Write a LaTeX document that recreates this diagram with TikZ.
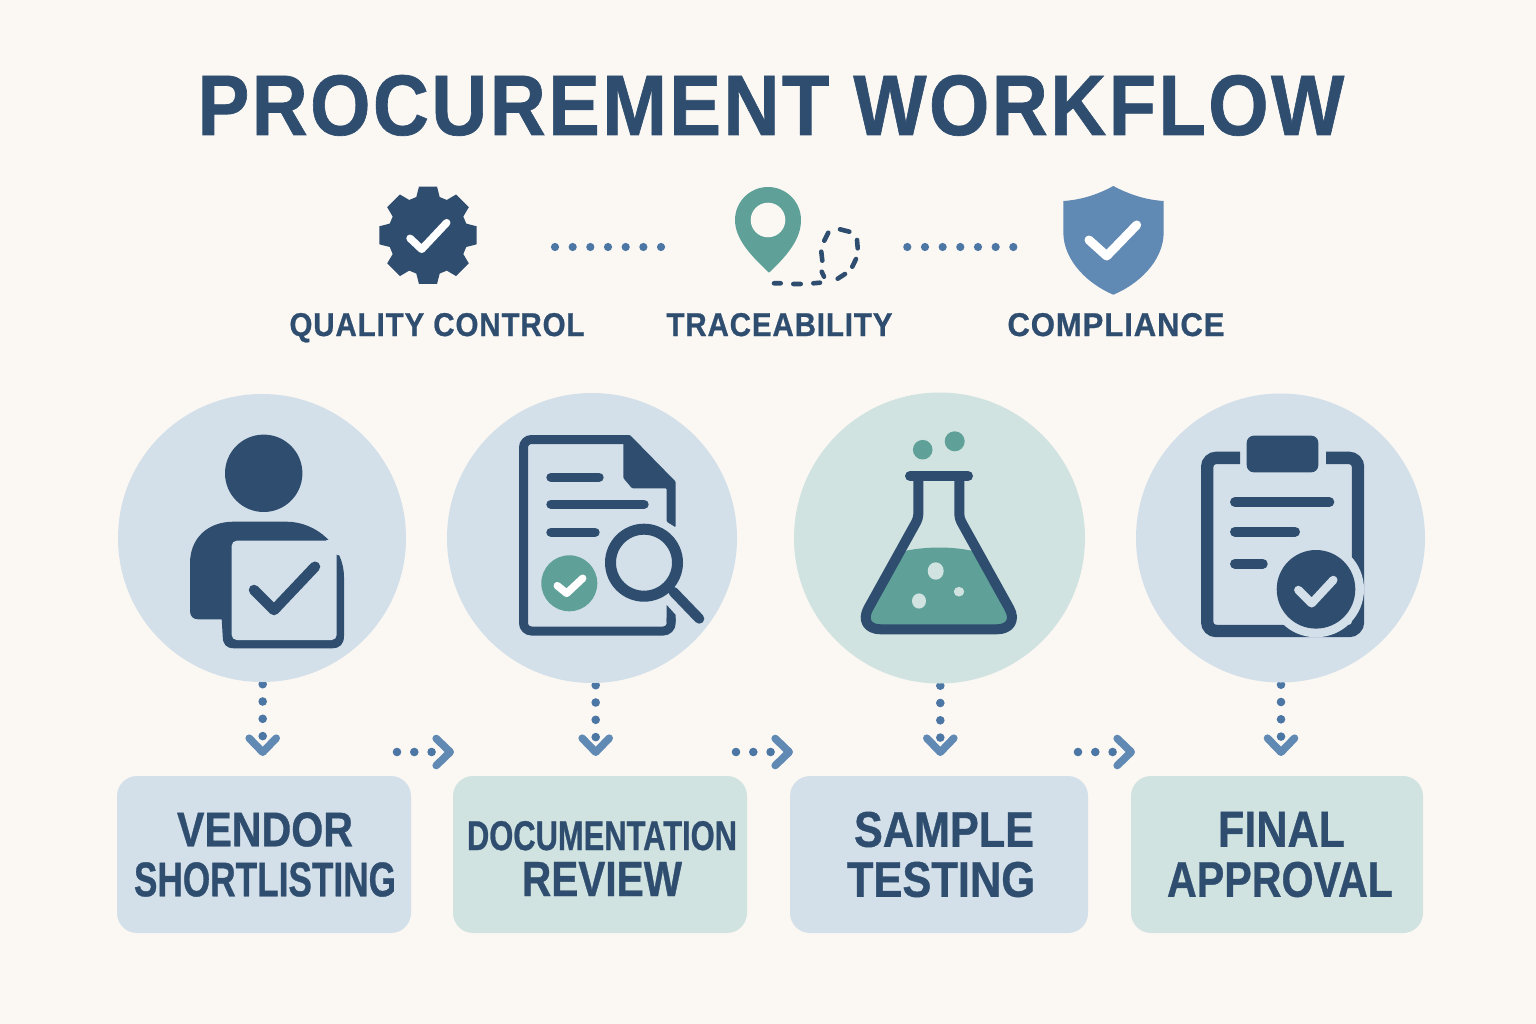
\documentclass[tikz,border=0pt]{standalone}
\usepackage{fontspec}
\setmainfont{Liberation Sans}[BoldFeatures={FakeBold=0.8}]
\usetikzlibrary{arrows.meta, backgrounds}

\definecolor{paperbg}{HTML}{FBF8F4}
\definecolor{navyink}{HTML}{2F4E6F}
\definecolor{tealink}{HTML}{5FA198}
\definecolor{shieldblue}{HTML}{6089B3}
\definecolor{dotblue}{HTML}{4C76A4}
\definecolor{paleblue}{HTML}{D3E0E9}
\definecolor{palegreen}{HTML}{D1E3E0}

\newcommand{\fitline}[3]{\resizebox{#1pt}{#2pt}{#3}}

\tikzset{
    headtext/.style={anchor=base, inner sep=0pt, text=navyink, font=\bfseries\addfontfeatures{LetterSpace=3}},
    stepcircle/.style={circle, inner sep=0pt},
    stepbox/.style={rounded corners=20pt, inner sep=0pt, minimum height=157pt, align=center,
        text=navyink, font=\bfseries\fontsize{34}{50}\selectfont},
    dotrow/.style={dotblue, line width=8.2pt, line cap=round, dash pattern=on 0pt off 17.67pt},
    dotarrow/.style={dotblue, line width=8.6pt, line cap=round, dash pattern=on 0pt off 17.3pt,
        -{Straight Barb[round, length=14pt, width=27pt, line width=7.6pt, color=shieldblue]}},
    inkline/.style={navyink, line width=9.4pt, line cap=round},
    tickmark/.style={line cap=round, line join=round}
}

\begin{document}
\begin{tikzpicture}[x=1pt, y=-1pt]
    \useasboundingbox (0,0) rectangle (1536,1024);
    \begin{scope}[on background layer]
        \fill[paperbg] (0,0) rectangle (1536,1024);
    \end{scope}

    % Title and the three small labels
    \node[headtext] (title) at (771,135) {\fitline{1146}{60}{PROCUREMENT WORKFLOW}};
    \node[headtext] (qclabel) at (437,336) {\fitline{295}{23}{QUALITY CONTROL}};
    \node[headtext] (tracelabel) at (779.5,336) {\fitline{226}{23}{TRACEABILITY}};
    \node[headtext] (complabel) at (1116,336) {\fitline{217}{23}{COMPLIANCE}};

    % Gear
    \begin{scope}[shift={(428,235.3)}]
        \fill[navyink] (-17:40) \foreach \a in {0,45,...,315} {
            -- (\a-17:40) -- (\a-10.5:49.5) -- (\a+10.5:49.5) -- (\a+17:40)
        } -- cycle;
    \end{scope}
    \draw[tickmark, white, line width=7.5pt] (410,238.3) -- (421.7,249.3) -- (446.7,222.7);

    % Pin and its dashed trail
    \fill[tealink] (769,272.7) .. controls (749,254) and (735,238) .. (735,220)
        arc (180:360:33) .. controls (801,238) and (789,254) .. (769,272.7) -- cycle;
    \fill[paperbg] (768,220) circle (17.3);
    \draw[navyink, line width=4.6pt, line cap=round]
        (774,283.3) -- (780.7,283.3) (793.3,284) -- (800.7,284) (813.3,283.3) -- (820,282.7)
        (821.7,271.7) -- (824,276.7) (821.3,251.7) -- (822.3,260.7) (824.3,240.7) -- (828.3,232.7)
        (840,229.3) -- (849.3,231.7) (857,240) -- (857.7,248.3) (856,259) -- (852.3,266.7)
        (845,274) -- (837.7,278.7);

    % Shield
    \fill[shieldblue] (1113.3,186) .. controls (1097,195) and (1080,200) .. (1063.3,201)
        -- (1063.3,232) .. controls (1063.3,262) and (1090,285) .. (1113.3,294.7)
        .. controls (1137,285) and (1163.7,262) .. (1163.7,232)
        -- (1163.7,201) .. controls (1147,200) and (1130,195) .. (1113.3,186) -- cycle;
    \draw[tickmark, white, line width=9pt] (1089,240) -- (1106.7,256) -- (1136.7,225);

    % Dotted links between the small icons
    \coordinate (gearright) at (555,247);
    \coordinate (pinleft) at (661.5,247);
    \coordinate (pinright) at (907.3,247);
    \coordinate (shieldleft) at (1013.5,247);
    \draw[dotrow] (gearright) -- (pinleft);
    \draw[dotrow] (pinright) -- (shieldleft);

    % Step circles
    \node[stepcircle, fill=paleblue, minimum size=288pt] (vendorc) at (262,538) {};
    \node[stepcircle, fill=paleblue, minimum size=290pt] (docc) at (592,538) {};
    \node[stepcircle, fill=palegreen, minimum size=291pt] (samplec) at (939.5,538) {};
    \node[stepcircle, fill=paleblue, minimum size=289pt] (finalc) at (1280.5,538) {};

    % Step boxes
    \node[stepbox, fill=paleblue, minimum width=294pt] (vendorb) at (264,854.5)
        {\hspace*{2pt}\fitline{176}{34}{VENDOR}\\\hspace*{2pt}\fitline{262}{34}{SHORTLISTING}};
    \node[stepbox, fill=palegreen, minimum width=294pt] (docb) at (600,854.5)
        {\rule{0pt}{37pt}\hspace*{4pt}\fitline{270}{29}{DOCUMENTATION}\\[-4pt]\hspace*{4pt}\fitline{160}{34}{REVIEW}};
    \node[stepbox, fill=paleblue, minimum width=298pt] (sampleb) at (939,854.5)
        {\hspace*{10pt}\fitline{180}{35}{SAMPLE}\\\hspace*{4pt}\fitline{188}{35}{TESTING}};
    \node[stepbox, fill=palegreen, minimum width=292pt] (finalb) at (1277,854.5)
        {\hspace*{9pt}\fitline{127}{35}{FINAL}\\\hspace*{6pt}\fitline{226}{35}{APPROVAL}};

    % Person with the card
    \fill[navyink] (263.7,473.3) circle (38.7);
    \fill[navyink] (221.7,619.3) -- (198,619.3) .. controls (193,619.3) and (190,616) .. (190,611)
        -- (190,563.3) .. controls (190,538) and (208,521.7) .. (233.3,521.7)
        -- (286.7,521.7) .. controls (316,521.7) and (344,546) .. (344,577)
        -- (344,636) .. controls (344,644) and (340,648.3) .. (332,648.3)
        -- (234,648.3) .. controls (226,648.3) and (222.7,644) .. (222.7,636) -- cycle;
    \fill[paleblue] (326,540) -- (350,540) -- (350,555) -- (337,555) -- cycle;
    \fill[paleblue, rounded corners=5pt] (231.7,540.7) rectangle (336.7,640);
    \draw[tickmark, navyink, line width=10.5pt] (254,590) -- (274,610) -- (315,566.7);

    % Document with the magnifier
    \fill[navyink] (666.7,605) -- (675.7,615) -- (675.7,622) -- (666.7,622) -- cycle;
    \draw[navyink, line width=9pt, rounded corners=8pt] (671.2,618) -- (671.2,631)
        -- (523.5,631) -- (523.5,439.5) -- (628,439.5);
    \fill[navyink, rounded corners=1pt] (622,435) -- (630,435) -- (675.7,481.7)
        -- (675.7,527.3) -- (666.7,521.7) -- (666.7,488.3) -- (632,488.3)
        -- (623.3,478) -- (623.3,440) -- cycle;
    \draw[inkline] (551,477.3) -- (599,477.3);
    \draw[inkline] (551,504.3) -- (644,504.3);
    \draw[inkline] (551,532.3) -- (595,532.3);
    \fill[tealink] (569.3,583.3) circle (28);
    \draw[tickmark, white, line width=7.5pt] (557.3,585.7) -- (566.7,593.3) -- (582.7,578.3);
    \draw[navyink, line width=11pt] (644,562.7) circle (33.5);
    \draw[navyink, line width=10pt, line cap=round] (673.3,591.7) -- (699.3,618.7);

    % Flask
    \fill[tealink] (900,552) .. controls (925,546) and (953,546) .. (977.6,552)
        [rounded corners=22pt] -- (1020.9,629.3) -- (856.7,629.3) [sharp corners] -- cycle;
    \fill[palegreen] (935.7,571) ellipse (8 and 8.7);
    \fill[palegreen] (919,601) ellipse (7 and 7.6);
    \fill[palegreen] (959,591.7) ellipse (5.2 and 4.8);
    \fill[tealink] (922.7,449.7) circle (9.8);
    \fill[tealink] (954.7,441.3) circle (10);
    \draw[navyink, line width=10pt, line join=round]
        (918.3,476) [rounded corners=4pt] -- (918.3,518.3) [rounded corners=24pt] -- (856.7,629.3)
        -- (1020.9,629.3) [rounded corners=4pt] -- (959.3,518.3) [sharp corners] -- (959.3,476);
    \draw[navyink, line width=10pt, line cap=round] (910,476) -- (968,476);

    % Clipboard with the badge
    \draw[navyink, line width=12.4pt, rounded corners=9pt] (1240,457.9) -- (1207.2,457.9)
        -- (1207.2,631) -- (1358,631) -- (1358,457.9) -- (1326,457.9);
    \fill[navyink, rounded corners=7pt] (1246.7,435.7) rectangle (1318.3,472.3);
    \draw[navyink, line width=10pt, line cap=round] (1235,502) -- (1329.3,502);
    \draw[navyink, line width=10pt, line cap=round] (1235,531.7) -- (1295,531.7);
    \draw[navyink, line width=10pt, line cap=round] (1235,563.7) -- (1262.7,563.7);
    \fill[paleblue] (1316,589.3) circle (48);
    \fill[navyink] (1316,589.3) circle (39.3);
    \draw[tickmark, paleblue, line width=8.4pt] (1298.3,590) -- (1311.7,603.3) -- (1333.3,580);

    % Dotted arrows, kept under the circles
    \coordinate (vendorend) at (262.7,756);
    \coordinate (docend) at (595.7,756);
    \coordinate (sampleend) at (940.3,756);
    \coordinate (finalend) at (1281,756);
    \coordinate (link1s) at (397,752);
    \coordinate (link1e) at (454,752);
    \coordinate (link2s) at (736,752);
    \coordinate (link2e) at (793,752);
    \coordinate (link3s) at (1078,752);
    \coordinate (link3e) at (1135,752);
    \begin{scope}[on background layer]
        \draw[dotarrow] ([xshift=0.7pt, yshift=-2pt]vendorc.south) -- (vendorend);
        \draw[dotarrow] ([xshift=3.7pt, yshift=-2pt]docc.south) -- (docend);
        \draw[dotarrow] ([xshift=0.8pt, yshift=-2pt]samplec.south) -- (sampleend);
        \draw[dotarrow] ([xshift=0.5pt, yshift=-2pt]finalc.south) -- (finalend);
        \draw[dotarrow] (link1s) -- (link1e);
        \draw[dotarrow] (link2s) -- (link2e);
        \draw[dotarrow] (link3s) -- (link3e);
    \end{scope}
\end{tikzpicture}
\end{document}
